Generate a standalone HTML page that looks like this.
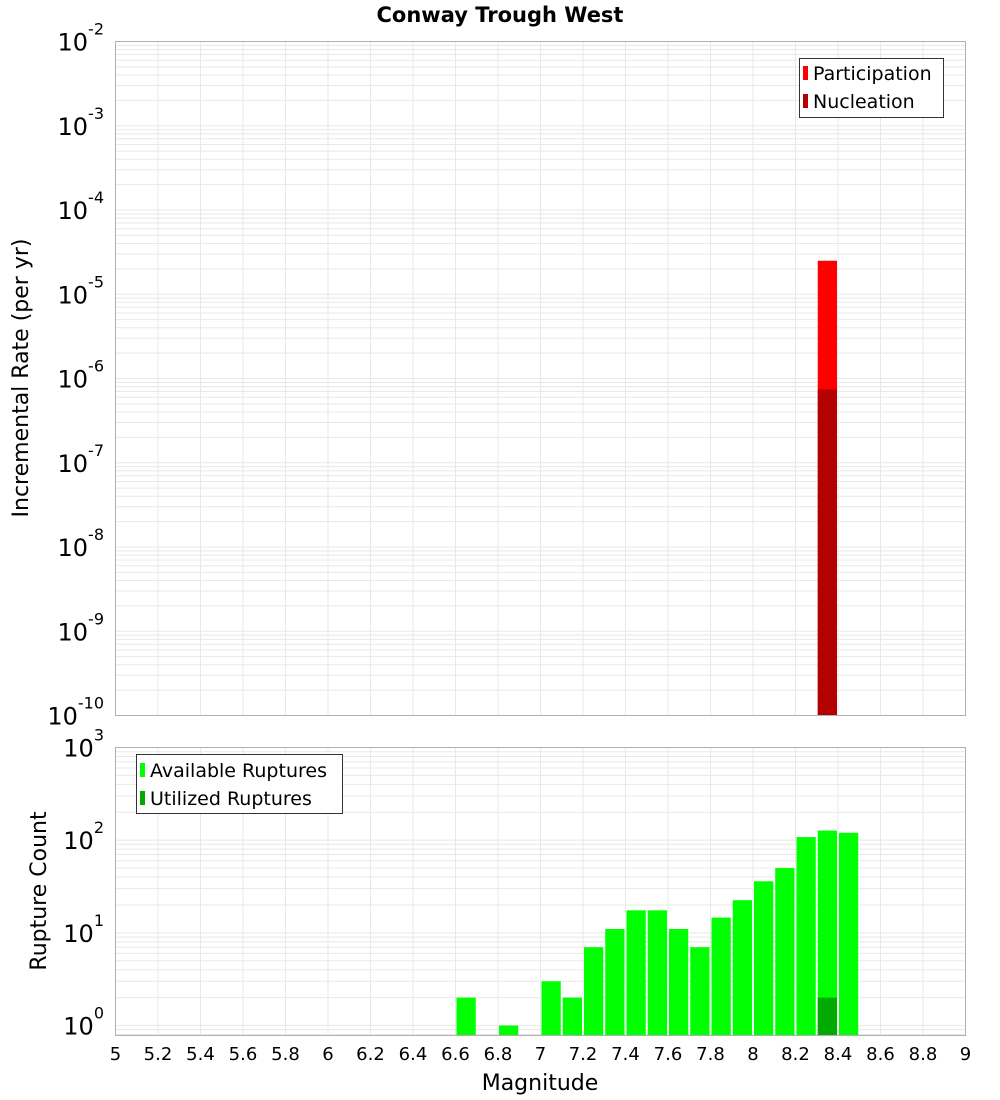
<!DOCTYPE html>
<html><head><meta charset="utf-8"><style>
html,body{margin:0;padding:0;background:#fff;}
svg{display:block;font-family:"DejaVu Sans","Liberation Sans",sans-serif;}
</style></head><body>
<svg id="c" width="1000" height="1100" xmlns="http://www.w3.org/2000/svg">
<text x="500" y="22" text-anchor="middle" font-size="21" font-weight="bold">Conway Trough West</text>
<g id="topPlot"></g>
<g id="botPlot"></g>
<text transform="translate(28,378) rotate(-90)" text-anchor="middle" font-size="22">Incremental Rate (per yr)</text>
<text transform="translate(46,891) rotate(-90)" text-anchor="middle" font-size="22">Rupture Count</text>
<text x="540" y="1090" text-anchor="middle" font-size="22">Magnitude</text>
<g>
<rect x="799.5" y="58.5" width="144" height="59" fill="#fff" stroke="#333"/>
<rect x="803" y="66" width="5" height="14" fill="#ff0000"/>
<text x="813" y="80" font-size="19">Participation</text>
<rect x="803" y="94" width="5" height="14" fill="#b30000"/>
<text x="813" y="108" font-size="19">Nucleation</text>
</g>
<g>
<rect x="136.5" y="754.5" width="206" height="59" fill="#fff" stroke="#333"/>
<rect x="140" y="763" width="5" height="14" fill="#00ff00"/>
<text x="150" y="777" font-size="19">Available Ruptures</text>
<rect x="140" y="791" width="5" height="14" fill="#00aa00"/>
<text x="150" y="805" font-size="19">Utilized Ruptures</text>
</g>
</svg>
<script>
const rateMags=[8.35];
const participation=[2.5e-5];
const nucleation=[7.4e-7];
const countMags=[6.65,6.85,7.05,7.15,7.25,7.35,7.45,7.55,7.65,7.75,7.85,7.95,8.05,8.15,8.25,8.35,8.45];
const available=[2,1,3,2,7,11,17.5,17.5,11,7,14.6,22.5,36,50,108,127,120];
const utilizedMags=[8.35];
const utilized=[2];
const xTicks=[5,5.2,5.4,5.6,5.8,6,6.2,6.4,6.6,6.8,7,7.2,7.4,7.6,7.8,8,8.2,8.4,8.6,8.8,9];
const xTickLabels=["5","5.2","5.4","5.6","5.8","6","6.2","6.4","6.6","6.8","7","7.2","7.4","7.6","7.8","8","8.2","8.4","8.6","8.8","9"];
const topExps=[-2,-3,-4,-5,-6,-7,-8,-9,-10];
const botExps=[0,1,2,3];

const NS="http://www.w3.org/2000/svg";
const L=115.5,R=965.5;
const x=m=>L+(m-5)/(9-5)*(R-L);
const T1=41.5,B1=715.5,yTop=v=>T1+(-2-Math.log10(v))/8*(B1-T1);
const T2=747.5,B2=1035.5,botMin=Math.log10(0.78),yBot=v=>B2-(Math.log10(v)-botMin)/(3-botMin)*(B2-T2);
function el(p,tag,a,txt){const e=document.createElementNS(NS,tag);for(const k in a)e.setAttribute(k,a[k]);if(txt!=null)e.textContent=txt;p.appendChild(e);return e;}
function grid(g,T,B,yf,lo,hi){
  for(let d=lo;d<hi;d++)for(let k=1;k<10;k++){const v=k*Math.pow(10,d);const yy=yf(v);if(yy<T-0.5||yy>B+0.5)continue;
    const ln=el(g,'line',{x1:L,x2:R,y1:yy,y2:yy,stroke:'#e8e8e8','stroke-width':1});
    
    }
  xTicks.forEach(t=>{const ln=el(g,'line',{x1:x(t),x2:x(t),y1:T,y2:B,stroke:'#e8e8e8'});
    
    });
}
function bar(g,m,v,yf,B,fill,name){const r=el(g,'rect',{x:x(m-0.05)+1,y:yf(v),width:x(m+0.05)-x(m-0.05)-2,height:B-yf(v),fill:fill});
  
  }
function ylab(g,e,yy){const t=el(g,'text',{x:104,y:yy+9,'text-anchor':'end','font-size':24});
  
  
  el(t,'tspan',{},'10');el(t,'tspan',{dy:-16,'font-size':16},String(e));}
const topG=document.getElementById('topPlot'),botG=document.getElementById('botPlot');
grid(topG,T1,B1,yTop,-10,-2);
rateMags.forEach((m,i)=>bar(topG,m,participation[i],yTop,B1,'#ff0000','participation-bar'));
rateMags.forEach((m,i)=>bar(topG,m,nucleation[i],yTop,B1,'#b30000','nucleation-bar'));
el(topG,'rect',{x:L,y:T1,width:R-L,height:B1-T1,fill:'none',stroke:'#b0b0b0'});
topExps.forEach(e=>ylab(topG,e,yTop(Math.pow(10,e))));
grid(botG,T2,B2,yBot,-1,3);
countMags.forEach((m,i)=>bar(botG,m,available[i],yBot,B2,'#00ff00','available-bar'));
utilizedMags.forEach((m,i)=>bar(botG,m,utilized[i],yBot,B2,'#00aa00','utilized-bar'));
el(botG,'rect',{x:L,y:T2,width:R-L,height:B2-T2,fill:'none',stroke:'#b0b0b0'});
botExps.forEach(e=>ylab(botG,e,yBot(Math.pow(10,e))));
xTicks.forEach((t,i)=>{const tx=el(botG,'text',{x:x(t),y:1060,'text-anchor':'middle','font-size':18},xTickLabels[i]);
  
  });
</script>
</body></html>
